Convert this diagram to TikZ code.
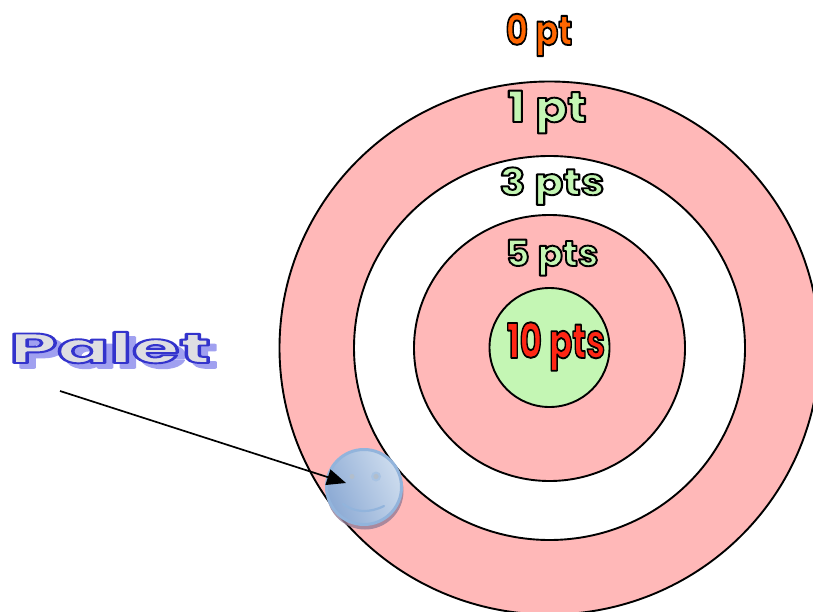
\documentclass[tikz,border=0pt]{standalone}
\usepackage{fontspec}
\setmainfont{Poppins}
\usetikzlibrary{arrows.meta,shapes.geometric,patterns}
\definecolor{ringpink}{RGB}{255,184,184}
\definecolor{ringgreen}{RGB}{196,246,180}
\definecolor{ptorange}{RGB}{255,102,0}
\definecolor{ptred}{RGB}{255,38,20}
\definecolor{paletfill}{RGB}{222,222,226}
\definecolor{paletshadow}{RGB}{160,160,240}
\definecolor{ballrim}{RGB}{146,180,220}
\definecolor{balldark}{RGB}{140,170,212}
\definecolor{balllight}{RGB}{205,220,238}
\definecolor{ballshade}{RGB}{150,125,150}
\definecolor{balleye}{RGB}{178,190,204}
\newcommand{\outlinedtext}[5]{{\fontsize{#1}{#1}\bfseries\color{#3}\special{pdf:code q 2 Tr #4 RG #2 w 1 j}#5\special{pdf:code Q}}}
\newcommand{\blacktext}[3]{\outlinedtext{#1}{1.9}{#2}{0 0 0}{#3}}
\tikzset{
  x=1pt,y=-1pt,
  ring/.style={draw=black,line width=1.9pt,ellipse,inner sep=0pt},
  score/.style={anchor=base,inner sep=0pt,transform shape},
  ballbody/.style={circle,inner sep=0pt,minimum size=75pt,draw=ballrim,line width=3pt,shading=axis,left color=balldark,right color=balllight,shading angle=115},
  pointer/.style={draw=black,line width=1.7pt,-{Triangle[length=19pt,width=16pt]}}
}
\begin{document}
\begin{tikzpicture}
\useasboundingbox (0,0) rectangle (813,612);
\fill[white] (0,0) rectangle (813,612);
\node[ring,fill=ringpink,minimum width=540pt,minimum height=533pt] (outer) at (549.5,348) {};
\node[ring,fill=white,minimum width=391pt,minimum height=384pt] (second) at (549.5,348) {};
\node[ring,fill=ringpink,minimum width=271pt,minimum height=266pt] (third) at (549.5,348) {};
\node[ring,fill=ringgreen,minimum width=120pt,minimum height=119pt] (bull) at (549.5,347.5) {};
\node[score,xscale=.81] (zero) at (539,45) {\blacktext{42}{ptorange}{0 pt}};
\node[score,xscale=1.1] (one) at (547,122) {\blacktext{43}{ringgreen}{1 pt}};
\node[score,xscale=1.15] (three) at (552,195) {\blacktext{37}{ringgreen}{3 pts}};
\node[score,xscale=1.03] (five) at (552,266) {\blacktext{36}{ringgreen}{5 pts}};
\node[score,xscale=.71] (ten) at (556,358) {\blacktext{48}{ptred}{10 pts}};
\node[score,xscale=1.83] (paletback) at (117,368) {\outlinedtext{42}{1.8}{paletshadow}{0.63 0.63 0.94}{Palet}};
\node[score,xscale=1.83] (palet) at (110,363) {\outlinedtext{42}{1.9}{paletfill}{0.2 0.2 0.8}{Palet}};
\fill[ballshade,opacity=.8] (365,491) circle (38.5);
\node[ballbody] (ball) at (364,487) {};
\coordinate (start) at (60,391);
\coordinate (tip) at (346,483);
\draw[pointer] (start) -- (tip);
\fill[balleye] (352,476.5) circle (2.5);
\fill[ballrim!80!white] (376,476.5) circle (5);
\fill[balleye] (376,476.5) circle (2.6);
\draw[ballrim,line width=2.2pt,line cap=round] (343,504) .. controls (355,513) and (370,513) .. (384,506);
\end{tikzpicture}
\end{document}
